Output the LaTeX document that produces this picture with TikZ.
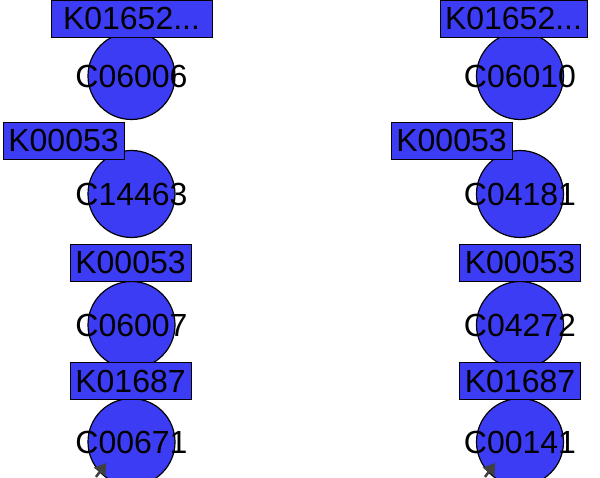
\documentclass[tikz,border=0pt]{standalone}
\usepackage{fontspec}
\setmainfont{Liberation Sans}
\usetikzlibrary{arrows.meta}
\definecolor{nodeblue}{RGB}{60,60,245}
\definecolor{edgegray}{RGB}{64,64,64}

\begin{document}
\begin{tikzpicture}[x=1pt, y=1pt,
    cpd/.style={circle, draw, line width=1.2pt, fill=nodeblue, minimum size=87pt, inner sep=0pt, font=\fontsize{32}{38}\selectfont},
    enz/.style={rectangle, draw, line width=0.9pt, fill=nodeblue, minimum height=37pt, inner sep=0pt, font=\fontsize{32}{38}\selectfont},
    flow/.style={draw=edgegray, line width=2.5pt, -{Triangle[width=14pt, length=11pt]}, edgegray}]
    \useasboundingbox (0,0) rectangle (600,477);

    % Left pathway: compounds
    \node[cpd] (C06006) at (131.5,401) {\makebox[0pt]{C06006}};
    \node[cpd] (C14463) at (131.5,283) {\makebox[0pt]{C14463}};
    \node[cpd] (C06007) at (131.5,152) {\makebox[0pt]{C06007}};
    \node[cpd] (C00671) at (131.5,35) {\makebox[0pt]{C00671}};

    % Right pathway: compounds
    \node[cpd] (C06010) at (520,401) {\makebox[0pt]{C06010}};
    \node[cpd] (C04181) at (520,283) {\makebox[0pt]{C04181}};
    \node[cpd] (C04272) at (520,152) {\makebox[0pt]{C04272}};
    \node[cpd] (C00141) at (520,35) {\makebox[0pt]{C00141}};

    % Left pathway: enzymes
    \node[enz, minimum width=161pt] (kL1) at (131.5,458.5) {K01652...};
    \node[enz, minimum width=121pt] (kL2) at (63.5,336.5) {K00053};
    \node[enz, minimum width=121pt] (kL3) at (130.5,214.5) {K00053};
    \node[enz, minimum width=121pt] (kL4) at (130.5,96) {K01687};

    % Right pathway: enzymes
    \node[enz, minimum width=147pt] (kR1) at (513.5,458.5) {K01652...};
    \node[enz, minimum width=121pt] (kR2) at (451.5,336.5) {K00053};
    \node[enz, minimum width=121pt] (kR3) at (520,214.5) {K00053};
    \node[enz, minimum width=121pt] (kR4) at (520,96) {K01687};

    % Incoming edges
    \coordinate (inL) at (96,0);
    \coordinate (inR) at (485,0);
    \draw[flow] (inL) -- (106,14);
    \draw[flow] (inR) -- (495,14);
\end{tikzpicture}
\end{document}
